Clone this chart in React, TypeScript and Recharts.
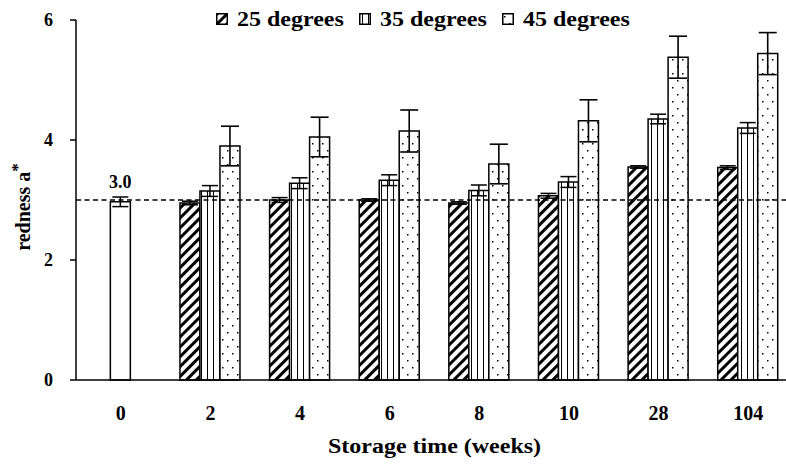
import React from 'react';
import { BarChart, Bar, XAxis, YAxis, ErrorBar, ReferenceLine, Legend, Cell, LabelList } from 'recharts';

const categories = ['0', '2', '4', '6', '8', '10', '28', '104'];
const controlValue = 2.97;
const controlError = 0.08;
const controlLabel = '3.0';
const deg25 = [2.95, 3.0, 3.0, 2.95, 3.07, 3.55, 3.54];
const err25 = [0.03, 0.04, 0.02, 0.02, 0.04, 0.02, 0.03];
const deg35 = [3.15, 3.28, 3.33, 3.16, 3.3, 4.35, 4.2];
const err35 = [0.09, 0.09, 0.09, 0.09, 0.09, 0.08, 0.09];
const deg45 = [3.9, 4.05, 4.15, 3.6, 4.32, 5.38, 5.44];
const err45 = [0.33, 0.33, 0.35, 0.33, 0.35, 0.35, 0.35];
const seriesNames = ['25 degrees', '35 degrees', '45 degrees'];
const yTicks = [0, 2, 4, 6];
const referenceValue = 3.0;
const xTitle = 'Storage time (weeks)';
const yTitle = 'redness a';

const data = categories.map((week, i) =>
  i === 0
    ? { week, d25: null, e25: null, d35: controlValue, e35: controlError, d45: null, e45: null, ctrl: controlLabel }
    : { week, d25: deg25[i - 1], e25: err25[i - 1], d35: deg35[i - 1], e35: err35[i - 1], d45: deg45[i - 1], e45: err45[i - 1], ctrl: null }
);

const FONT = '"Liberation Serif", "Times New Roman", serif';

const PatternDefs = ({ prefix }: { prefix: string }) => (
  <defs>
    <pattern id={`${prefix}25`} patternUnits="userSpaceOnUse" width={7} height={7} patternTransform="rotate(45)">
      <rect x={0} y={0} width={7} height={7} fill="#fff" />
      <rect x={0} y={0} width={3} height={7} fill="#000" />
    </pattern>
    <pattern id={`${prefix}35`} patternUnits="userSpaceOnUse" width={6} height={6}>
      <rect x={0} y={0} width={6} height={6} fill="#fff" />
      <rect x={3} y={0} width={1} height={6} fill="#000" />
    </pattern>
    <pattern id={`${prefix}45`} patternUnits="userSpaceOnUse" width={10} height={14}>
      <rect x={0} y={0} width={10} height={14} fill="#fff" />
      <rect x={2} y={3} width={1.5} height={1.5} fill="#000" />
      <rect x={7} y={10} width={1.5} height={1.5} fill="#000" />
    </pattern>
  </defs>
);

const LegendContent = () => (
  <div style={{ display: 'flex', height: 20, alignItems: 'center', fontFamily: FONT, fontWeight: 'bold', fontSize: 20, color: '#000', whiteSpace: 'nowrap' }}>
    {seriesNames.map((name, i) => {
      const key = ['25', '35', '45'][i];
      return (
        <div key={name} style={{ display: 'flex', alignItems: 'center', width: 143 }}>
          <svg width={12} height={12} style={{ marginRight: 9 }}>
            <PatternDefs prefix={`lg${key}-`} />
            <rect x={0.75} y={0.75} width={10.5} height={10.5} fill={`url(#lg${key}-${key})`} stroke="#000" strokeWidth={1.5} />
          </svg>
          <span style={{ lineHeight: '20px', display: 'inline-block', transform: 'scaleX(1.2)', transformOrigin: 'left center' }}>{name}</span>
        </div>
      );
    })}
  </div>
);

const YTitle = (props: any) => {
  const vb = props.viewBox || {};
  const x = (vb.x ?? 0) + 23;
  const y = (vb.y ?? 0) + (vb.height ?? 0) / 2 + 7;
  return (
    <text transform={`translate(${x},${y}) rotate(-90)`} textAnchor="middle" dominantBaseline="central" fontFamily={FONT} fontWeight="bold" fontSize={20} fill="#000">
      {yTitle}
      <tspan dy={-6} fontSize={17}>*</tspan>
    </text>
  );
};

const XTitle = (props: any) => {
  const vb = props.viewBox || {};
  const x = (vb.x ?? 0) + (vb.width ?? 0) / 2;
  const y = (vb.y ?? 0) + (vb.height ?? 0) - 12;
  return (
    <text transform={`translate(${x},${y}) scale(1.2,1)`} textAnchor="middle" fontFamily={FONT} fontWeight="bold" fontSize={20} fill="#000">
      {xTitle}
    </text>
  );
};

const ControlLabel = (props: any) => {
  const { x, y, width, value } = props;
  if (value == null) return null;
  return (
    <text x={x + width / 2} y={y - 14} textAnchor="middle" fontFamily={FONT} fontWeight="bold" fontSize={18} fill="#000">
      {value}
    </text>
  );
};

export default function App() {
  return (
    <div style={{ position: 'absolute', left: 0, top: 0, width: 786, height: 465, overflow: 'hidden', background: '#fff' }}>
      <BarChart width={800} height={465} data={data} margin={{ top: 0, right: 7, left: 0, bottom: 0 }} barCategoryGap="16%" barGap={0}>
        <PatternDefs prefix="p" />
        <Legend verticalAlign="top" align="left" content={<LegendContent />} wrapperStyle={{ top: 9, left: 216, width: 'auto' }} />
        <XAxis
          dataKey="week"
          height={85}
          tickLine={false}
          tickSize={0}
          tickMargin={26}
          axisLine={{ stroke: '#000', strokeWidth: 1.5 }}
          tick={{ fontFamily: FONT, fontWeight: 'bold', fontSize: 20, fill: '#000' }}
          label={<XTitle />}
        />
        <YAxis
          width={76}
          domain={[0, 6]}
          ticks={yTicks}
          tickSize={6}
          tickMargin={17}
          axisLine={{ stroke: '#000', strokeWidth: 1.5 }}
          tickLine={{ stroke: '#000', strokeWidth: 1.5 }}
          tick={{ fontFamily: FONT, fontWeight: 'bold', fontSize: 18, fill: '#000' }}
          label={<YTitle />}
        />
        <Bar dataKey="d25" name={seriesNames[0]} fill="url(#p25)" stroke="#000" strokeWidth={1.5} isAnimationActive={false}>
          <ErrorBar dataKey="e25" width={8} stroke="#000" strokeWidth={1.5} />
        </Bar>
        <Bar dataKey="d35" name={seriesNames[1]} fill="url(#p35)" stroke="#000" strokeWidth={1.5} isAnimationActive={false}>
          {data.map((row, i) => (
            <Cell key={i} fill={row.ctrl != null ? '#fff' : 'url(#p35)'} />
          ))}
          <ErrorBar dataKey="e35" width={8} stroke="#000" strokeWidth={1.5} />
          <LabelList dataKey="ctrl" content={<ControlLabel />} />
        </Bar>
        <Bar dataKey="d45" name={seriesNames[2]} fill="url(#p45)" stroke="#000" strokeWidth={1.5} isAnimationActive={false}>
          <ErrorBar dataKey="e45" width={9} stroke="#000" strokeWidth={1.6} />
        </Bar>
        <ReferenceLine y={referenceValue} stroke="#000" strokeWidth={1.5} strokeDasharray="5 3.5" zIndex={1000} />
      </BarChart>
    </div>
  );
}
